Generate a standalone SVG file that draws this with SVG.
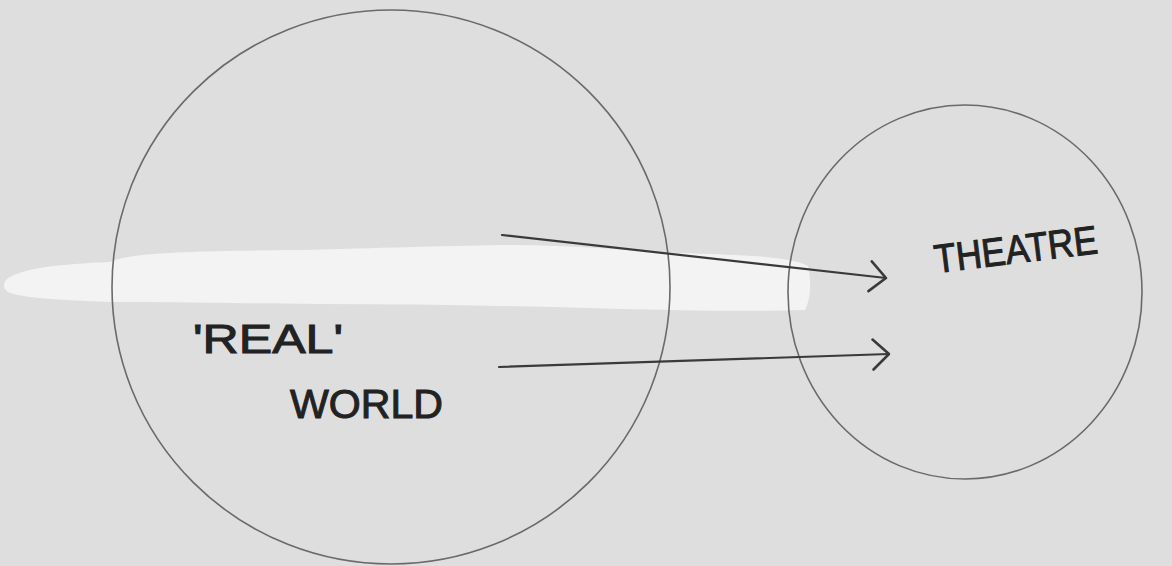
<svg xmlns="http://www.w3.org/2000/svg" width="1172" height="566" viewBox="0 0 1172 566">
<defs>
<style>
.circle{fill:none;stroke:#6a6a6a;stroke-width:1.6}
.conn{fill:none;stroke:#3a3a3a;stroke-width:2.2;stroke-linecap:round;stroke-linejoin:round}
.lbl{font-family:"Liberation Sans","DejaVu Sans",sans-serif;fill:#222;stroke:#222;stroke-width:1;font-size:40px}
</style>
<marker id="open" markerWidth="22" markerHeight="36" refX="19" refY="18" orient="auto" markerUnits="userSpaceOnUse" viewBox="0 0 22 36">
<path d="M3,3 L19,18 L3,33" fill="none" stroke="#3a3a3a" stroke-width="2.6" stroke-linecap="round" stroke-linejoin="round"/>
</marker>
</defs>
<rect width="1172" height="566" fill="#dedede"/>
<path d="M6,280 C20,268 60,264 110,262 C130,252 200,251 300,250 C380,248 440,246 500,245 C560,244 620,250 680,253 C740,255 790,256 808,266 C812,285 810,300 805,310 C740,312 680,310 620,309 C520,306 420,304 320,304 C220,303 150,302 110,302 C60,300 20,298 8,292 C3,288 3,284 6,280 Z" fill="#f3f3f3"/>
<g id="real-world">
<ellipse class="circle" cx="391" cy="287" rx="279" ry="277"/>
<text class="lbl" x="193" y="353" textLength="150" lengthAdjust="spacingAndGlyphs">'REAL'</text>
<text class="lbl" x="290" y="418" textLength="153" lengthAdjust="spacingAndGlyphs">WORLD</text>
</g>
<g id="theatre">
<ellipse class="circle" cx="965" cy="292" rx="177" ry="187"/>
<text class="lbl" x="936" y="273" font-size="36" transform="rotate(-7 936 273)" textLength="164" lengthAdjust="spacingAndGlyphs">THEATRE</text>
</g>
<g id="connectors">
<line class="conn" x1="502" y1="235" x2="886" y2="278" marker-end="url(#open)"/>
<line class="conn" x1="499" y1="367" x2="889" y2="354" marker-end="url(#open)"/>
</g>
</svg>
